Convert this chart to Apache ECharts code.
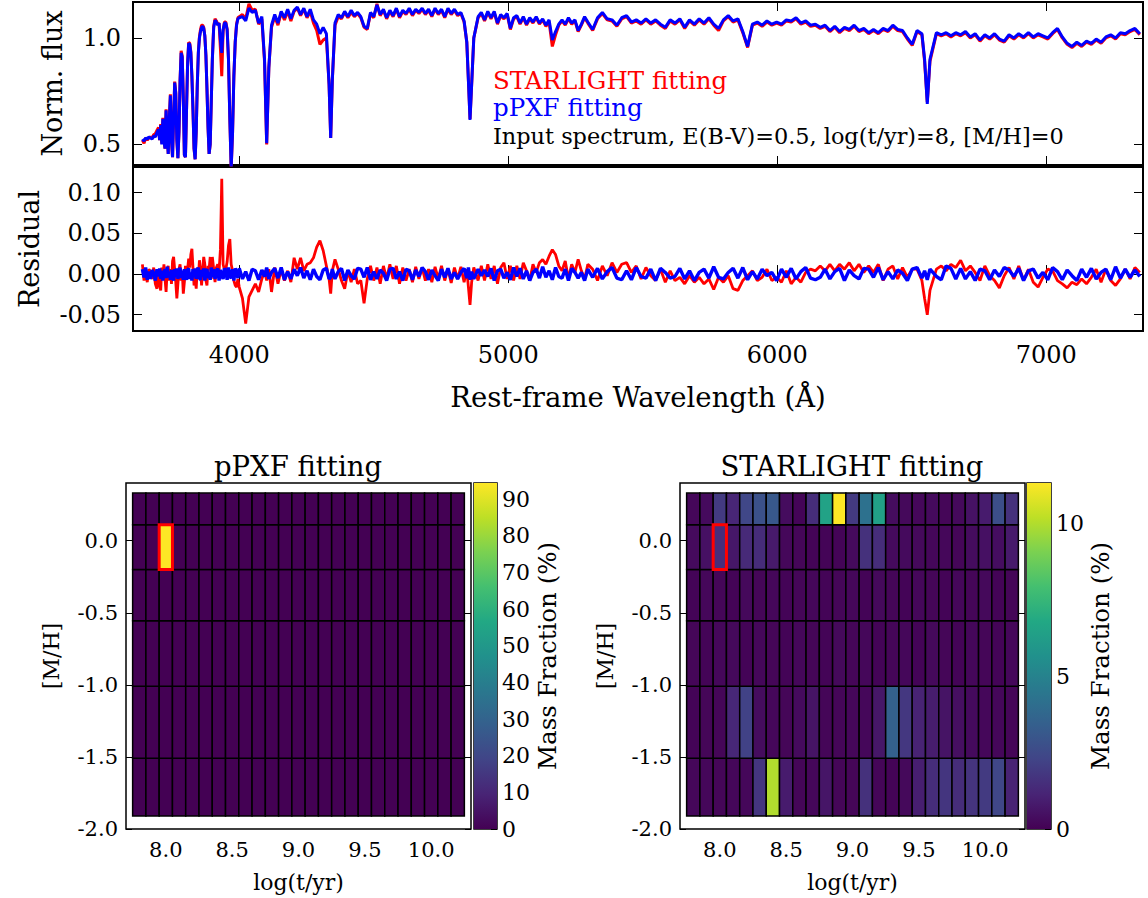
<!DOCTYPE html>
<html>
<head>
<meta charset="utf-8">
<script src="https://cdn.jsdelivr.net/npm/echarts@6/dist/echarts.min.js"></script>
<style>
  html, body { margin: 0; padding: 0; background: #fff; }
  #chart { width: 1148px; height: 898px; }
</style>
</head>
<body>
<div id="chart"></div>
<script>
// rest-frame wavelength (A)
const wave = [
  3640,3646,3652,3658,3664,3670,3676,3682,3688,3694,
  3700,3704,3708,3712,3716,3720,3724,3728,3732,3736,
  3740,3744,3748,3752,3756,3760,3764,3768,3772,3776,
  3780,3784,3788,3792,3796,3800,3804,3808,3812,3816,
  3820,3824,3828,3832,3836,3840,3844,3848,3852,3856,
  3860,3864,3868,3872,3876,3880,3884,3888,3892,3896,
  3900,3905,3910,3915,3920,3925,3930,3935,3940,3945,
  3950,3955,3960,3965,3970,3975,3980,3985,3990,3995,
  4000,4012,4024,4036,4048,4060,4072,4084,4094,4102,
  4110,4120,4132,4144,4156,4168,4180,4192,4204,4216,
  4228,4240,4252,4264,4276,4288,4300,4312,4324,4334,
  4340,4346,4356,4368,4380,4392,4404,4416,4428,4440,
  4452,4464,4476,4488,4500,4512,4524,4536,4548,4560,
  4572,4584,4596,4608,4620,4632,4644,4656,4668,4680,
  4692,4704,4716,4728,4740,4752,4764,4776,4788,4800,
  4812,4824,4836,4846,4852,4858,4864,4872,4888,4900,
  4912,4924,4936,4948,4960,4972,4984,4996,5008,5020,
  5032,5044,5056,5068,5080,5092,5104,5116,5128,5140,
  5152,5164,5176,5188,5200,5212,5224,5236,5248,5260,
  5272,5284,5296,5314,5332,5350,5368,5386,5404,5422,
  5440,5458,5476,5494,5512,5530,5548,5566,5584,5602,
  5620,5638,5656,5674,5692,5710,5728,5746,5764,5782,
  5800,5818,5836,5854,5872,5890,5908,5926,5944,5962,
  5980,5998,6016,6034,6052,6070,6088,6106,6124,6142,
  6160,6178,6196,6214,6232,6250,6268,6286,6304,6322,
  6340,6358,6376,6394,6412,6430,6448,6466,6484,6502,
  6520,6538,6548,6558,6568,6592,6610,6628,6646,6664,
  6682,6700,6718,6736,6754,6772,6790,6808,6826,6844,
  6862,6880,6898,6916,6934,6952,6970,6988,7006,7024,
  7042,7060,7078,7096,7114,7132,7150,7168,7186,7204,
  7222,7240,7258,7276,7294,7312,7330,7348
];

// pPXF best fit, normalised flux
const pxfFlux = [
  .525,.515,.53,.525,.535,.53,.525,.54,.535,.555,
  .57,.52,.59,.50,.62,.52,.48,.66,.55,.455,
  .62,.73,.52,.44,.62,.79,.74,.52,.435,.56,
  .80,.93,.91,.72,.45,.44,.66,.88,.975,.97,
  .93,.82,.66,.48,.43,.56,.78,.93,1.0,1.03,
  1.05,1.055,1.045,1.01,.92,.76,.58,.455,.50,.70,
  .90,1.05,1.083,1.075,1.06,1.07,.99,.93,1.04,1.07,
  1.07,1.04,.90,.62,.39,.55,.82,.98,1.06,1.09,
  1.095,1.10,1.08,1.14,1.12,1.13,1.07,1.10,.90,.505,
  .86,1.06,1.11,1.07,1.125,1.095,1.135,1.09,1.13,1.145,
  1.11,1.14,1.10,1.135,1.085,1.065,1.02,1.05,1.02,.78,
  .53,.80,1.07,1.11,1.095,1.125,1.10,1.13,1.105,1.12,
  1.10,1.055,1.045,1.12,1.10,1.155,1.11,1.135,1.095,1.13,
  1.105,1.14,1.10,1.13,1.115,1.14,1.11,1.135,1.12,1.14,
  1.115,1.135,1.105,1.14,1.115,1.135,1.10,1.14,1.115,1.135,
  1.11,1.12,1.08,.98,.80,.615,.78,1.0,1.10,1.12,
  1.085,1.125,1.095,1.125,1.07,1.11,1.095,1.115,1.045,1.095,
  1.105,1.07,1.10,1.065,1.095,1.075,1.10,1.07,1.09,1.06,
  1.085,.99,1.03,1.065,1.085,1.065,1.095,1.07,1.085,1.035,
  1.065,1.10,1.075,1.04,1.095,1.12,1.09,1.085,1.06,1.095,
  1.105,1.075,1.085,1.07,1.09,1.07,1.085,1.065,1.05,1.085,
  1.07,1.09,1.05,1.085,1.065,1.09,1.07,1.095,1.065,1.045,
  1.085,1.105,1.08,1.09,1.03,.96,1.065,1.075,1.06,1.08,
  1.065,1.075,1.065,1.085,1.08,1.095,1.07,1.08,1.06,1.065,
  1.05,1.06,1.035,1.055,1.03,1.05,1.04,1.06,1.035,1.045,
  1.025,1.04,1.025,1.045,1.035,1.06,1.04,1.035,1.00,.97,
  1.035,1.02,.90,.69,.90,1.025,1.015,1.025,1.01,1.025,
  1.015,1.03,1.005,1.02,.99,1.015,1.0,1.02,.995,.985,
  1.015,1.0,1.02,1.005,1.025,1.005,1.02,1.01,1.0,1.025,
  1.045,1.005,.975,.96,.98,.965,.985,.975,.995,.98,
  1.005,1.015,1.0,1.025,1.02,1.035,1.045,1.02
];

// STARLIGHT best fit, normalised flux
const slFlux = [
  .52,.505,.53,.52,.53,.535,.53,.545,.55,.565,
  .58,.52,.595,.505,.625,.52,.48,.665,.55,.455,
  .62,.735,.52,.44,.62,.795,.745,.52,.435,.56,
  .80,.94,.915,.72,.45,.44,.66,.885,.98,.975,
  .935,.82,.66,.48,.43,.56,.78,.935,1.005,1.04,
  1.06,1.06,1.05,1.01,.92,.76,.58,.455,.50,.70,
  .90,1.055,1.09,1.08,1.065,1.07,.95,.82,1.03,1.075,
  1.075,1.04,.90,.62,.385,.55,.82,.98,1.065,1.095,
  1.10,1.11,1.09,1.16,1.13,1.135,1.065,1.09,.89,.50,
  .86,1.05,1.10,1.06,1.12,1.085,1.125,1.08,1.125,1.14,
  1.105,1.135,1.095,1.125,1.07,1.035,.97,.99,1.0,.78,
  .53,.80,1.06,1.10,1.09,1.12,1.095,1.12,1.10,1.115,
  1.095,1.05,1.04,1.115,1.095,1.16,1.105,1.13,1.09,1.125,
  1.10,1.135,1.095,1.125,1.11,1.135,1.105,1.13,1.115,1.135,
  1.11,1.13,1.10,1.135,1.11,1.13,1.095,1.135,1.11,1.13,
  1.105,1.115,1.075,.98,.80,.62,.78,1.0,1.095,1.115,
  1.08,1.12,1.09,1.12,1.065,1.105,1.09,1.11,1.04,1.09,
  1.10,1.065,1.095,1.06,1.09,1.07,1.095,1.065,1.085,1.055,
  1.075,.96,1.015,1.06,1.08,1.06,1.09,1.065,1.08,1.03,
  1.06,1.095,1.07,1.035,1.09,1.115,1.085,1.08,1.055,1.09,
  1.10,1.07,1.08,1.065,1.085,1.065,1.08,1.06,1.045,1.08,
  1.065,1.085,1.045,1.08,1.06,1.085,1.065,1.09,1.06,1.035,
  1.08,1.10,1.075,1.085,1.025,.955,1.06,1.07,1.055,1.075,
  1.06,1.07,1.06,1.08,1.075,1.09,1.065,1.075,1.055,1.06,
  1.045,1.055,1.03,1.05,1.025,1.045,1.035,1.055,1.03,1.04,
  1.02,1.035,1.02,1.04,1.03,1.055,1.035,1.03,.995,.965,
  1.03,1.015,.89,.70,.89,1.02,1.01,1.02,1.005,1.02,
  1.01,1.025,1.0,1.015,.985,1.01,.995,1.015,.99,.98,
  1.01,.995,1.015,1.0,1.02,1.0,1.015,1.005,.995,1.02,
  1.04,1.0,.97,.955,.975,.96,.98,.97,.99,.975,
  1.0,1.01,.995,1.02,1.015,1.03,1.04,1.015
];

// residuals (input - fit)
const pxfRes = [
  .006,-.004,.008,-.007,.003,-.006,.005,.001,-.008,.006,
  -.003,.007,-.006,.004,-.008,.002,.006,-.005,.009,-.004,
  .003,-.007,.005,-.002,-.008,.006,-.004,.007,-.006,.002,
  .008,-.005,.004,-.007,.006,-.003,-.007,.005,.007,-.006,
  .002,-.008,.006,-.004,.007,-.006,.003,.008,-.005,-.007,
  .005,-.003,.007,-.008,.004,.006,-.005,.002,-.007,.008,
  -.004,.006,-.006,.003,.007,-.008,.005,-.002,-.006,.007,
  .004,-.007,.008,-.003,-.005,.006,-.008,.007,.002,-.005,
  .007,-.006,.003,-.008,.006,.004,-.007,.005,-.003,.008,
  -.006,.002,.007,-.005,.008,-.007,.003,-.006,.006,-.002,
  .008,-.005,.004,-.007,.006,-.003,-.007,.005,.007,-.006,
  -.004,.006,-.006,.003,.007,-.008,.005,-.002,-.006,.007,
  .006,-.004,.008,-.007,.003,-.006,.005,.001,-.008,.006,
  .007,-.006,.003,-.008,.006,.004,-.007,.005,-.003,.008,
  .003,-.007,.005,-.002,-.008,.006,-.004,.007,-.006,.002,
  -.006,.002,.007,-.005,.008,-.007,.003,-.006,.006,-.002,
  .005,-.003,.007,-.008,.004,.006,-.005,.002,-.007,.008,
  -.003,.007,-.006,.004,-.008,.002,.006,-.005,.009,-.004,
  .004,-.007,.008,-.003,-.005,.006,-.008,.007,.002,-.005,
  .002,-.008,.006,-.004,.007,-.006,.003,.008,-.005,-.007,
  .004,-.007,.008,-.003,-.005,.006,-.008,.007,.002,-.005,
  -.003,.007,-.006,.004,-.008,.002,.006,-.005,.009,-.004,
  -.006,.002,.007,-.005,.008,-.007,.003,-.006,.006,-.002,
  .002,-.008,.006,-.004,.007,-.006,.003,.008,-.005,-.007,
  -.004,.006,-.006,.003,.007,-.008,.005,-.002,-.006,.007,
  .006,-.004,.008,-.007,.003,-.006,.005,.001,-.008,.006,
  .008,-.005,.004,-.007,.006,-.003,-.007,.010,.007,-.006,
  .007,-.006,.003,-.008,.006,.004,-.007,.005,-.003,.008,
  .005,-.003,.007,-.008,.004,.006,-.005,.002,-.007,.008,
  .003,-.007,.005,-.002,-.008,.006,-.004,.007,-.006,.002,
  .006,-.007,.009,-.005,.006,-.004,.005,-.003
];

const slRes = [
  .012,-.008,.004,-.010,.006,.003,-.006,.008,-.012,-.018,
  .006,-.014,-.02,.008,-.004,.012,-.006,-.022,.004,.010,
  -.008,.006,-.012,.016,.021,.005,-.01,-.03,-.012,.006,
  .012,-.008,.004,-.024,-.01,.01,.004,.006,.019,.008,
  .024,.031,.008,-.014,-.006,-.018,.008,-.004,.017,.004,
  -.014,.006,.021,.012,-.008,-.014,.010,.006,.021,-.006,
  .021,.006,-.01,.008,.012,.004,.03,.117,.012,.005,
  .006,.015,.035,.043,.012,.004,-.008,-.014,-.016,-.006,
  -.016,-.03,-.061,-.028,-.02,-.012,-.022,-.006,.004,-.008,
  .006,-.022,.008,-.012,.006,-.008,.004,-.01,.02,.006,
  .02,.004,.012,.014,.02,.033,.041,.029,.01,-.006,
  -.024,.004,.018,.006,-.008,-.018,.004,-.01,.006,-.012,
  -.008,-.036,-.006,.01,-.008,.008,-.012,.01,-.006,.012,
  -.006,.01,-.012,.008,-.008,.006,-.01,.009,-.006,.008,
  -.008,.006,-.01,.009,-.006,.01,-.008,.006,-.011,.008,
  -.006,.009,-.01,.006,-.016,-.038,-.01,.008,-.008,.01,
  -.008,.012,-.006,.01,-.012,.008,.014,-.006,.01,-.008,
  .01,-.006,.014,.004,-.008,.012,.002,.014,.018,.012,
  .022,.03,.024,.01,.004,.016,-.006,.012,.002,.018,
  .004,-.006,.012,.006,-.008,.01,-.002,.014,.002,.012,
  .014,.002,.01,-.006,.008,-.002,-.008,.006,-.01,.004,
  -.008,-.004,-.012,-.002,-.01,-.004,-.012,-.006,-.019,-.004,
  -.01,-.002,-.018,-.02,-.008,-.002,.004,-.008,-.004,.006,
  -.008,-.004,-.01,.004,-.012,-.004,-.01,.002,.006,.004,
  .01,.004,.012,.004,.012,.006,.014,.004,.012,.002,
  .01,.002,.012,-.008,.006,.01,-.006,.008,-.004,.006,
  .006,-.008,-.03,-.05,-.02,.006,.01,.004,.012,.008,
  .017,.004,.01,.002,-.008,.01,-.002,-.008,-.017,-.002,
  .008,-.006,.01,-.008,.006,-.01,-.016,-.004,.006,.004,
  -.008,-.012,-.017,-.01,-.013,-.006,-.012,-.004,.006,-.01,
  .006,-.008,-.014,-.006,.006,-.006,.008,.002
];

// SSP grid: log(age/yr) and [M/H]
const ageGrid = [7.8,7.9,8.0,8.1,8.2,8.3,8.4,8.5,8.6,8.7,8.8,8.9,9.0,9.1,9.2,9.3,9.4,9.5,9.6,9.7,9.8,9.9,10.0,10.1,10.2];
const mhGrid = [-1.71, -1.31, -0.71, -0.40, 0.00, 0.22];

// mass fractions (%), one row per [M/H]
const ppxfMass = [
  [0,0,0,0,0,0,0,0,0,0,0,0,0,0,0,0,0,0,0,0,0,0,0,0,0],
  [0,0,0,0,0,0,0,0,0,0,0,0,0,0,0,0,0,0,0,0,0,0,0,0,0],
  [0,0,0,0,0,0,0,0,0,0,0,0,0,0,0,0,0,0,0,0,0,0,0,0,0],
  [0,0,0,0,0,0,0,0,0,0,0,0,0,0,0,0,0,0,0,0,0,0,0,0,0],
  [0,0,94.4,0,0,0,0,0,0,0,0,0,0,0,0,0,0,0,0,0,0,0,0,0,0],
  [0,0,0,0,0,0,0,0,0,0,0,0,0,0,0,0,0,0,0,0,0,0,0,0,0]
];
const slMass = [
  [0.2,0.2,0.15,0.2,0.2,1.75,10.0,0.85,0.15,0.2,0.65,0.15,0.15,1.6,0.15,0.1,0.25,0.95,1.45,1.75,1.45,1.7,1.9,2.4,1.1],
  [0.1,0.15,0.15,1.25,2.2,0.35,0.2,0.15,0.3,0.6,0.15,0.15,0.2,0.2,0.7,3.5,1.8,1.1,0.9,0.6,0.45,0.3,0.2,0.2,0.15],
  [0.15,0.1,0.2,0.25,0.1,0.2,0.15,0.1,0.2,0.15,0.1,0.25,0.15,0.2,0.1,0.15,0.2,0.1,0.25,0.15,0.1,0.2,0.15,0.1,0.2],
  [0.1,0.2,0.15,0.1,0.25,0.15,0.2,0.1,0.15,0.2,0.1,0.15,0.2,0.1,0.25,0.15,0.1,0.2,0.15,0.1,0.2,0.15,0.25,0.1,0.15],
  [0.3,0.5,1.5,0.7,1.35,1.4,0.8,0.2,0.15,0.1,0.1,0.1,0.3,1.6,1.45,0.3,0.3,0.25,0.2,0.2,0.15,0.35,0.5,0.4,0.8],
  [0.2,0.3,1.9,1.2,2.4,2.8,3.1,0.35,0.1,1.45,6.5,11.34,1.9,4.2,6.4,0.35,0.25,0.2,0.3,0.15,0.25,0.55,0.85,2.7,1.6]
];
const inputAge = 8.0;
const inputMH = 0.0;

// tick labels
const waveTicks = [4000, 5000, 6000, 7000];
const fluxTicks = [0.5, 1.0];
const resTicks = [-0.05, 0, 0.05, 0.10];
const ageTicks = [8.0, 8.5, 9.0, 9.5, 10.0];
const mhTicks = [-2.0, -1.5, -1.0, -0.5, 0.0];
const ppxfBarTicks = [0, 10, 20, 30, 40, 50, 60, 70, 80, 90];
const slBarTicks = [0, 5, 10];

const viridis = ['#440154','#482475','#414487','#355f8d','#2a788e','#21918c','#22a884','#44bf70','#7ad151','#bddf26','#fde725'];
const FONT = 'DejaVu Serif';

const ppxfMax = Math.max(...ppxfMass.flat());
const slMax = Math.max(...slMass.flat());
const halfAge = (ageGrid[1] - ageGrid[0]) / 2;

// cell edges in [M/H]: midway between grid values
const mhEdges = mhGrid.map((m, i) => {
  const lo = i > 0 ? (m + mhGrid[i - 1]) / 2 : m - (mhGrid[1] - m) / 2;
  const hi = i < mhGrid.length - 1 ? (m + mhGrid[i + 1]) / 2 : m + (m - mhGrid[i - 1]) / 2;
  return [lo, hi];
});

function cells(mass) {
  const out = [];
  mass.forEach((row, i) => {
    row.forEach((v, j) => {
      out.push([ageGrid[j], mhGrid[i], v, mhEdges[i][0], mhEdges[i][1]]);
    });
  });
  return out;
}
const inputRow = mhGrid.indexOf(inputMH);
const inputCell = [[inputAge, inputMH, 0, mhEdges[inputRow][0], mhEdges[inputRow][1]]];

function cellRect(params, api, style) {
  const p0 = api.coord([api.value(0) - halfAge, api.value(4)]);
  const p1 = api.coord([api.value(0) + halfAge, api.value(3)]);
  return {
    type: 'rect',
    shape: { x: p0[0], y: p0[1], width: p1[0] - p0[0], height: p1[1] - p0[1] },
    style: style
  };
}

function valueAxis(gridIndex, position, min, max, ticks, opt) {
  opt = opt || {};
  return Object.assign({
    type: 'value', gridIndex, position, min, max,
    axisLine: { show: false },
    splitLine: { show: false },
    axisTick: { show: true, inside: true, length: opt.tickLen || 8, customValues: ticks,
                lineStyle: { color: '#000', width: 1 } },
    axisLabel: { show: !!opt.fmt, customValues: ticks, formatter: opt.fmt,
                 color: '#000', fontFamily: FONT, fontSize: opt.fontSize || 21, margin: opt.margin || 8 },
    nameTextStyle: { color: '#000', fontFamily: FONT, fontSize: opt.nameSize || 21 }
  }, opt.extra || {});
}
const fix = n => v => v.toFixed(n);
const int = v => String(v);
const midName = (name, gap, rotate) => ({ name, nameLocation: 'middle', nameGap: gap, nameRotate: rotate });

const gradient = new echarts.graphic.LinearGradient(0, 1, 0, 0,
  viridis.map((c, i) => ({ offset: i / (viridis.length - 1), color: c })));

const gridBox = (left, top, width, height, bw) => ({
  left, top, width, height, show: true, borderColor: '#000', borderWidth: bw,
  backgroundColor: 'transparent', containLabel: false, outerBoundsMode: 'none'
});

const option = {
  animation: false,
  backgroundColor: '#fff',
  textStyle: { fontFamily: FONT },
  grid: [
    gridBox(133, 2, 1010, 163, 2),
    gridBox(133, 167, 1010, 164, 2),
    gridBox(126, 483, 345, 346, 1.5),
    gridBox(474, 483, 23, 346, 1.5),
    gridBox(680, 483, 345, 346, 1.5),
    gridBox(1027, 483, 24, 346, 1.5)
  ],
  xAxis: [
    valueAxis(0, 'bottom', 3605, 7360, waveTicks, { tickLen: 9 }),
    valueAxis(0, 'top', 3605, 7360, waveTicks, { tickLen: 9 }),
    valueAxis(1, 'bottom', 3605, 7360, waveTicks, { tickLen: 9, fmt: int, fontSize: 24, margin: 12, nameSize: 27.5,
      extra: midName('Rest-frame Wavelength (Å)', 52, 0) }),
    valueAxis(1, 'top', 3605, 7360, waveTicks, { tickLen: 9 }),
    valueAxis(2, 'bottom', 7.7, 10.3, ageTicks, { tickLen: 6, fmt: fix(1), margin: 10, nameSize: 22,
      extra: midName('log(t/yr)', 42, 0) }),
    valueAxis(2, 'top', 7.7, 10.3, ageTicks, { tickLen: 6 }),
    { type: 'category', gridIndex: 3, data: [''], show: false },
    valueAxis(4, 'bottom', 7.7, 10.3, ageTicks, { tickLen: 6, fmt: fix(1), margin: 10, nameSize: 22,
      extra: midName('log(t/yr)', 42, 0) }),
    valueAxis(4, 'top', 7.7, 10.3, ageTicks, { tickLen: 6 }),
    { type: 'category', gridIndex: 5, data: [''], show: false }
  ],
  yAxis: [
    valueAxis(0, 'left', 0.403, 1.169, fluxTicks, { tickLen: 9, fmt: fix(1), fontSize: 24, margin: 12, nameSize: 27,
      extra: midName('Norm. flux', 67, 90) }),
    valueAxis(0, 'right', 0.403, 1.169, fluxTicks, { tickLen: 9 }),
    valueAxis(1, 'left', -0.07, 0.1316, resTicks, { tickLen: 9, fmt: fix(2), fontSize: 24, margin: 12, nameSize: 27,
      extra: midName('Residual', 90, 90) }),
    valueAxis(1, 'right', -0.07, 0.1316, resTicks, { tickLen: 9 }),
    valueAxis(2, 'left', -2.0, 0.4, mhTicks, { tickLen: 6, fmt: fix(1), margin: 8, nameSize: 22,
      extra: midName('[M/H]', 64, 90) }),
    valueAxis(2, 'right', -2.0, 0.4, mhTicks, { tickLen: 6 }),
    valueAxis(3, 'right', 0, ppxfMax, ppxfBarTicks, { tickLen: 6, fmt: int, fontSize: 22, margin: 5, nameSize: 24.5,
      extra: midName('Mass Fraction (%)', 38, 90) }),
    valueAxis(4, 'left', -2.0, 0.4, mhTicks, { tickLen: 6, fmt: fix(1), margin: 8, nameSize: 22,
      extra: midName('[M/H]', 64, 90) }),
    valueAxis(4, 'right', -2.0, 0.4, mhTicks, { tickLen: 6 }),
    valueAxis(5, 'right', 0, slMax, slBarTicks, { tickLen: 6, fmt: int, fontSize: 22, margin: 5, nameSize: 24.5,
      extra: midName('Mass Fraction (%)', 36, 90) })
  ],
  visualMap: [
    { type: 'continuous', show: false, seriesIndex: 4, dimension: 2, min: 0, max: ppxfMax, inRange: { color: viridis } },
    { type: 'continuous', show: false, seriesIndex: 7, dimension: 2, min: 0, max: slMax, inRange: { color: viridis } }
  ],
  series: [
    { name: 'STARLIGHT fitting', type: 'line', xAxisIndex: 0, yAxisIndex: 0, symbol: 'none', clip: true,
      data: wave.map((w, i) => [w, slFlux[i]]), lineStyle: { color: '#ff0000', width: 3 }, z: 2 },
    { name: 'pPXF fitting', type: 'line', xAxisIndex: 0, yAxisIndex: 0, symbol: 'none', clip: true,
      data: wave.map((w, i) => [w, pxfFlux[i]]), lineStyle: { color: '#0000ff', width: 3 }, z: 3 },
    { name: 'STARLIGHT residual', type: 'line', xAxisIndex: 2, yAxisIndex: 2, symbol: 'none', clip: true,
      data: wave.map((w, i) => [w, slRes[i]]), lineStyle: { color: '#ff0000', width: 2.8 }, z: 2 },
    { name: 'pPXF residual', type: 'line', xAxisIndex: 2, yAxisIndex: 2, symbol: 'none', clip: true,
      data: wave.map((w, i) => [w, pxfRes[i]]), lineStyle: { color: '#0000ff', width: 3.4 }, z: 3 },
    { name: 'pPXF mass', type: 'custom', xAxisIndex: 4, yAxisIndex: 4, data: cells(ppxfMass),
      renderItem: (p, api) => cellRect(p, api, { fill: api.visual('color'), stroke: '#000', lineWidth: 1.5 }) },
    { name: 'pPXF input', type: 'custom', xAxisIndex: 4, yAxisIndex: 4, data: inputCell, z: 5,
      renderItem: (p, api) => cellRect(p, api, { fill: 'none', stroke: '#ff0000', lineWidth: 3 }) },
    { name: 'pPXF colorbar', type: 'bar', xAxisIndex: 6, yAxisIndex: 6, data: [ppxfMax], barWidth: '100%',
      silent: true, itemStyle: { color: gradient } },
    { name: 'STARLIGHT mass', type: 'custom', xAxisIndex: 7, yAxisIndex: 7, data: cells(slMass),
      renderItem: (p, api) => cellRect(p, api, { fill: api.visual('color'), stroke: '#000', lineWidth: 1.5 }) },
    { name: 'STARLIGHT input', type: 'custom', xAxisIndex: 7, yAxisIndex: 7, data: inputCell, z: 5,
      renderItem: (p, api) => cellRect(p, api, { fill: 'none', stroke: '#ff0000', lineWidth: 3 }) },
    { name: 'STARLIGHT colorbar', type: 'bar', xAxisIndex: 9, yAxisIndex: 9, data: [slMax], barWidth: '100%',
      silent: true, itemStyle: { color: gradient } }
  ],
  graphic: [
    { type: 'text', x: 493, y: 80, style: { text: 'STARLIGHT fitting', fill: '#ff0000', fontFamily: FONT, fontSize: 24.5, verticalAlign: 'middle' } },
    { type: 'text', x: 493, y: 107, style: { text: 'pPXF fitting', fill: '#0000ff', fontFamily: FONT, fontSize: 24.5, verticalAlign: 'middle' } },
    { type: 'text', x: 493, y: 136, style: { text: 'Input spectrum, E(B-V)=0.5, log(t/yr)=8, [M/H]=0', fill: '#000', fontFamily: FONT, fontSize: 22.4, verticalAlign: 'middle' } },
    { type: 'text', x: 298, y: 466, style: { text: 'pPXF fitting', fill: '#000', fontFamily: FONT, fontSize: 27.5, align: 'center', verticalAlign: 'middle' } },
    { type: 'text', x: 852, y: 466, style: { text: 'STARLIGHT fitting', fill: '#000', fontFamily: FONT, fontSize: 27.5, align: 'center', verticalAlign: 'middle' } }
  ]
};

const chart = echarts.init(document.getElementById('chart'), null, { renderer: 'svg' });
chart.setOption(option);
window.addEventListener('resize', chart.resize);
</script>
</body>
</html>
